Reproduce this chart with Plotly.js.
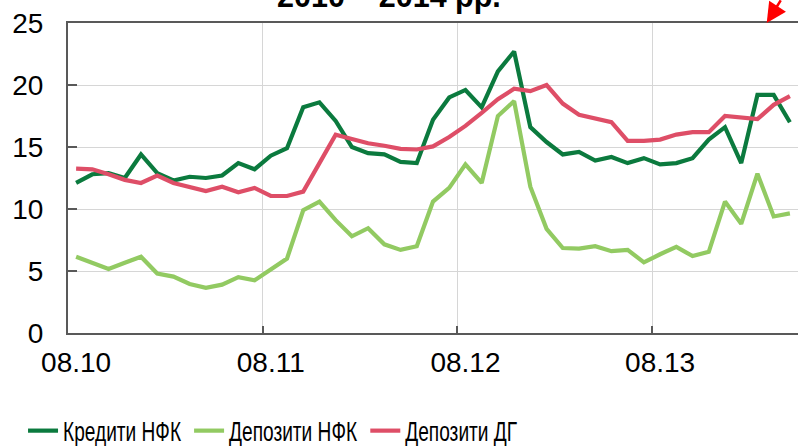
<!DOCTYPE html>
<html>
<head>
<meta charset="utf-8">
<script src="https://cdn.plot.ly/plotly-3.0.1.min.js"></script>
<style>html,body{margin:0;padding:0;background:#fff;}#chart{width:798px;height:446px;}</style>
</head>
<body>
<div id="chart"></div>
<script>
const months = ["08.10","09.10","10.10","11.10","12.10","01.11","02.11","03.11","04.11","05.11","06.11","07.11",
  "08.11","09.11","10.11","11.11","12.11","01.12","02.12","03.12","04.12","05.12","06.12","07.12",
  "08.12","09.12","10.12","11.12","12.12","01.13","02.13","03.13","04.13","05.13","06.13","07.13",
  "08.13","09.13","10.13","11.13","12.13","01.14","02.14","03.14","04.14"];
const tickLabels = ["08.10","08.11","08.12","08.13"];
const seriesNames = ["Кредити НФК","Депозити НФК","Депозити ДГ"];
const kredytyNFK = [12.1,12.8,12.9,12.5,14.4,12.9,12.3,12.6,12.5,12.7,13.7,13.2,
  14.3,14.9,18.2,18.6,17.1,15.0,14.5,14.4,13.8,13.7,17.2,19.0,
  19.6,18.2,21.1,22.7,16.6,15.4,14.4,14.6,13.9,14.2,13.7,14.1,
  13.6,13.7,14.1,15.6,16.6,13.7,19.2,19.2,17.0];
const depozytyNFK = [6.15,5.67,5.16,5.67,6.15,4.8,4.55,3.95,3.65,3.9,4.5,4.25,
  5.1,6.0,9.9,10.6,9.1,7.8,8.45,7.15,6.7,7.0,10.6,11.7,
  13.6,12.1,17.5,18.7,11.8,8.4,6.85,6.8,7.0,6.6,6.7,5.7,
  6.35,6.95,6.2,6.55,10.6,8.8,12.85,9.4,9.65];
const depozytyDG = [13.25,13.2,12.8,12.35,12.1,12.7,12.1,11.8,11.45,11.8,11.35,11.7,
  11.05,11.05,11.4,13.7,16.0,15.65,15.3,15.1,14.85,14.8,15.05,15.8,
  16.7,17.75,18.85,19.7,19.5,20.0,18.5,17.6,17.3,17.0,15.5,15.5,
  15.6,16.0,16.2,16.2,17.5,17.4,17.25,18.4,19.1];
const yTicks = [0,5,10,15,20,25];
const titleText = "2010 – 2014 рр.";

const colors = ["#0B7A3E","#92CA62","#DE4E67"];
const values = [kredytyNFK, depozytyNFK, depozytyDG];
const traces = values.map((v,k)=>({
  type:"scatter", mode:"lines", x: months, y: v, name: seriesNames[k],
  line:{color:colors[k], width:4.2}, xaxis:"x", yaxis:"y"
}));
const boundaries = tickLabels.map(l => months.indexOf(l) - 0.5);

const font = "Liberation Sans, Arial, sans-serif";
const layout = {
  width:798, height:446,
  margin:{l:68, r:0, t:23, b:113, autoexpand:false},
  paper_bgcolor:"#fff", plot_bgcolor:"#fff",
  showlegend:true,
  font:{family:font, color:"#000"},
  xaxis:{type:"category", range:[-0.5, months.length-0.5], tickvals:tickLabels, ticktext:tickLabels,
    showgrid:false, zeroline:false, ticks:"", showline:true, linecolor:"#595959", linewidth:2, mirror:true,
    tickfont:{size:28, family:font, color:"#000"}, ticklabelstandoff:3},
  xaxis2:{overlaying:"x", anchor:"y", range:[-0.5, months.length-0.5], tickvals:boundaries,
    showticklabels:false, showgrid:true, gridcolor:"#D6D6D6", gridwidth:1, zeroline:false,
    ticks:"inside", ticklen:7, tickwidth:2, tickcolor:"#595959", showline:false},
  yaxis:{range:[0,25], tickvals:yTicks, showgrid:true, gridcolor:"#D6D6D6", gridwidth:1, zeroline:false,
    ticks:"inside", ticklen:9, tickwidth:2, tickcolor:"#595959",
    showline:true, linecolor:"#595959", linewidth:2, mirror:false,
    tickfont:{size:28, family:font, color:"#000"}, ticklabelstandoff:17},
  legend:{orientation:"h", x:-0.0616, xanchor:"left", y:-0.316, yanchor:"middle",
    font:{size:19.5, family:font, color:"#000"},
    bgcolor:"rgba(0,0,0,0)", itemwidth:30},
  annotations:[
    {xref:"paper", yref:"paper", x:(388.5-68)/730, y:1.085, xanchor:"center", yanchor:"middle", showarrow:false,
     text:"<b>"+titleText+"</b>", font:{size:30.5, family:font, color:"#000"}},
    {xref:"paper", yref:"paper", x:(766.7-68)/730, y:1.0, text:" ", showarrow:true,
     ax:11, ay:-17, arrowhead:2, arrowsize:1.6, arrowwidth:2.5, arrowcolor:"#FF0000"}
  ],
  shapes:[
    {type:"line", xref:"paper", yref:"paper", x0:(776-68)/730, y0:1+(23-8)/310, x1:(792-68)/730, y1:1+(23+18)/310,
     line:{color:"#FF0000", width:2.5, dash:"dash"}}
  ]
};
traces.push({type:"scatter", mode:"none", x:[-0.5], y:[0], xaxis:"x2", yaxis:"y", showlegend:false, hoverinfo:"skip"});
Plotly.newPlot("chart", traces, layout, {displayModeBar:false, staticPlot:true}).then(gd => {
  gd.querySelectorAll(".legend [clip-path]").forEach(el => el.removeAttribute("clip-path"));
  gd.querySelectorAll(".legend .legendtext").forEach(t => {
    const w = t.getComputedTextLength();
    t.style.fontSize = "28px";
    t.setAttribute("textLength", (w*0.98).toFixed(1));
    t.setAttribute("lengthAdjust", "spacingAndGlyphs");
    t.setAttribute("y", (parseFloat(t.getAttribute("y") || 0) + 3).toString());
  });
});
</script>
</body>
</html>
